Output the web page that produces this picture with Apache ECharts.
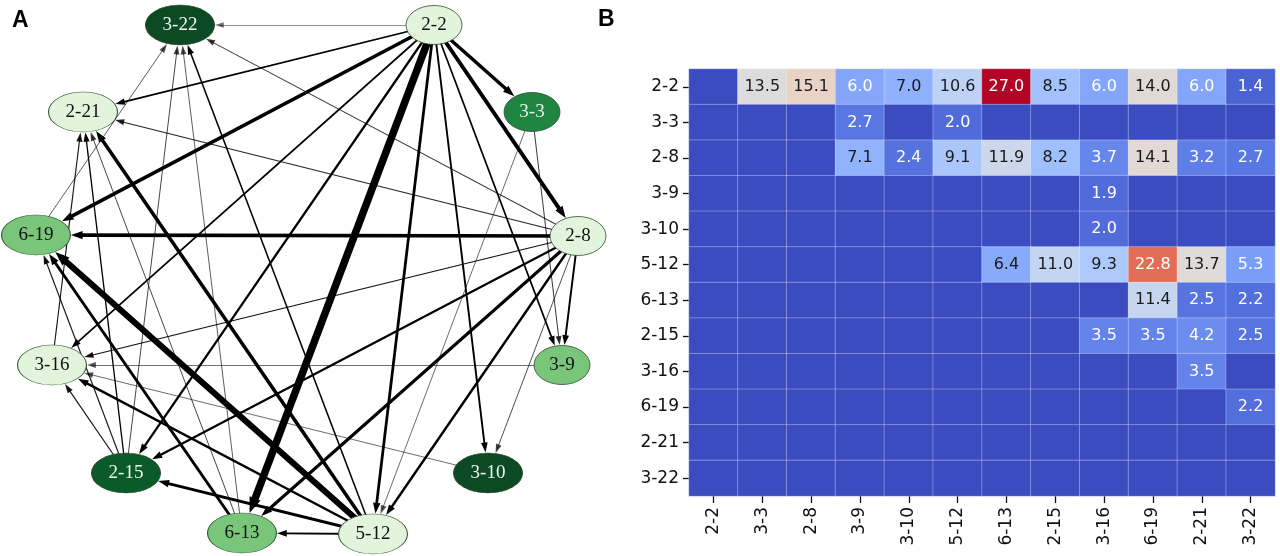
<!DOCTYPE html>
<html><head><meta charset="utf-8">
<script src="https://cdn.jsdelivr.net/npm/echarts@6/dist/echarts.min.js"></script>
<style>html,body{margin:0;padding:0;background:#fff}#c{width:1280px;height:556px}</style>
</head><body><div id="c"></div>
<script>
// ---------------- DATA ----------------
const stations = ['2-2','3-3','2-8','3-9','3-10','5-12','6-13','2-15','3-16','6-19','2-21','3-22'];
// flow from the row station (source) to each column station (target); null = no link
const from_2_2  = [null,13.5,15.1,6.0,7.0,10.6,27.0,8.5,6.0,14.0,6.0,1.4];
const from_3_3  = [null,null,null,2.7,null,2.0,null,null,null,null,null,null];
const from_2_8  = [null,null,null,7.1,2.4,9.1,11.9,8.2,3.7,14.1,3.2,2.7];
const from_3_9  = [null,null,null,null,null,null,null,null,1.9,null,null,null];
const from_3_10 = [null,null,null,null,null,null,null,null,2.0,null,null,null];
const from_5_12 = [null,null,null,null,null,null,6.4,11.0,9.3,22.8,13.7,5.3];
const from_6_13 = [null,null,null,null,null,null,null,null,null,11.4,2.5,2.2];
const from_2_15 = [null,null,null,null,null,null,null,null,3.5,3.5,4.2,2.5];
const from_3_16 = [null,null,null,null,null,null,null,null,null,null,3.5,null];
const from_6_19 = [null,null,null,null,null,null,null,null,null,null,null,2.2];
const from_2_21 = [null,null,null,null,null,null,null,null,null,null,null,null];
const from_3_22 = [null,null,null,null,null,null,null,null,null,null,null,null];
const flowRows = [from_2_2,from_3_3,from_2_8,from_3_9,from_3_10,from_5_12,from_6_13,from_2_15,from_3_16,from_6_19,from_2_21,from_3_22];

// ---------------- LAYOUT / STYLE (panel A network drawing) ----------------
const nodeLayout = {
  '3-22':[180,25], '2-2':[434,25], '3-3':[532,112], '2-21':[83,112],
  '2-8':[578,236], '6-19':[36,235], '3-16':[52,365], '3-9':[562,365],
  '2-15':[126,473], '3-10':[488,473], '6-13':[242,533], '5-12':[373,534]
};
const nodeShade = {
  '2-2':'light','3-3':'mid','2-8':'light','3-9':'medium','3-10':'dark','5-12':'light',
  '6-13':'medium','2-15':'dark2','3-16':'light','6-19':'medium','2-21':'light','3-22':'dark'
};
const shadeFill = {light:'#e3f4dd', medium:'#79c67b', mid:'#1f8541', dark:'#0b4a23', dark2:'#0b5a29'};
const shadeText = {light:'#111', medium:'#111', mid:'#e6f5e6', dark:'#eef8ee', dark2:'#eef8ee'};
const coolwarm = ['#3b4cc0','#5977e3','#7b9ff9','#9ebeff','#c0d4f5','#dddcdc','#f2cbb7','#f7ac8e','#ee8468','#d65244','#b40426'];

const ellipse = 'path://M0,50 A50,50 0 1,1 100,50 A50,50 0 1,1 0,50 Z';
function nodeSize(name){ return name.length > 3 ? [69,40] : [56,39]; }
function edgeWidth(v){ return 0.5 + 0.18*v + 0.003*v*v; }

const nodeData = stations.map(function(s){
  return {
    name: s, value: nodeLayout[s], symbol: ellipse, symbolSize: nodeSize(s),
    itemStyle: {color: shadeFill[nodeShade[s]], borderColor:'#2f4f2f', borderWidth:0.8, opacity:1},
    label: {color: shadeText[nodeShade[s]]}
  };
});

const edgeData = [];
flowRows.forEach(function(row, i){
  row.forEach(function(v, j){
    if (v == null) return;
    const s = nodeLayout[stations[i]], t = nodeLayout[stations[j]];
    const dx = s[0]-t[0], dy = s[1]-t[1], L = Math.hypot(dx,dy);
    const ux = dx/L, uy = dy/L;
    const sz = nodeSize(stations[j]);
    const a = sz[0]/2 + 0.5, b = sz[1]/2 + 0.5;
    const r = 1/Math.sqrt((ux/a)*(ux/a) + (uy/b)*(uy/b));
    const lw = edgeWidth(v);
    const al = 8 + 1.0*lw, aw = 5 + 0.9*lw;
    const alpha = Math.min(1, 0.35 + v*0.16);
    edgeData.push({
      coords: [[s[0], s[1]], [t[0] + ux*(r + al/2), t[1] + uy*(r + al/2)]],
      symbolSize: [[1,1],[aw, al]],
      lineStyle: {width: lw, color: 'rgba(0,0,0,' + alpha.toFixed(2) + ')', opacity: 1}
    });
  });
});

const heatData = [];
flowRows.forEach(function(row, i){
  row.forEach(function(v, j){
    const val = v == null ? 0 : v;
    const dark = val >= 6.2 && val <= 21;
    heatData.push({value:[j, i, val], label:{color: dark ? '#1a1a1a' : '#ffffff'}});
  });
});

const chart = echarts.init(document.getElementById('c'), null, {renderer:'canvas'});
const axisFont = {fontFamily:'DejaVu Sans', fontSize:17, color:'#111'};
chart.setOption({
  animation: false,
  backgroundColor: '#fff',
  title: [
    {text:'A', left:7, top:4, textStyle:{fontFamily:'Liberation Sans', fontWeight:'bold', fontSize:23, color:'#000'}},
    {text:'B', left:593, top:3, textStyle:{fontFamily:'Liberation Sans', fontWeight:'bold', fontSize:23, color:'#000'}}
  ],
  grid: [
    {left:0, top:0, width:1280, height:556, outerBoundsMode:'none'},
    {left:689, top:69, width:586, height:427, outerBoundsMode:'none'}
  ],
  xAxis: [
    {type:'value', gridIndex:0, min:0, max:1280, show:false},
    {type:'category', gridIndex:1, data:stations, position:'bottom',
     axisLine:{show:false}, splitLine:{show:false},
     axisTick:{show:true, alignWithLabel:true, length:7, lineStyle:{color:'#111', width:1.3}},
     axisLabel:Object.assign({rotate:90, margin:11, interval:0}, axisFont)}
  ],
  yAxis: [
    {type:'value', gridIndex:0, min:0, max:556, inverse:true, show:false},
    {type:'category', gridIndex:1, data:stations, inverse:true,
     axisLine:{show:false}, splitLine:{show:false},
     axisTick:{show:true, alignWithLabel:true, length:6, lineStyle:{color:'#111', width:1.3}},
     axisLabel:Object.assign({margin:10, interval:0}, axisFont)}
  ],
  visualMap: {
    show:false, type:'continuous', seriesIndex:2, dimension:2, min:0, max:27,
    inRange:{color: coolwarm}
  },
  series: [
    {type:'lines', coordinateSystem:'cartesian2d', xAxisIndex:0, yAxisIndex:0, z:2,
     symbol:['none','triangle'], silent:true, data: edgeData},
    {type:'scatter', xAxisIndex:0, yAxisIndex:0, z:4, silent:true, data: nodeData,
     itemStyle:{opacity:1},
     label:{show:true, position:'inside', formatter:'{b}', fontFamily:'Liberation Serif', fontSize:19}},
    {type:'heatmap', xAxisIndex:1, yAxisIndex:1, data: heatData,
     itemStyle:{borderColor:'rgba(255,255,255,0.3)', borderWidth:1},
     label:{show:true, fontFamily:'DejaVu Sans', fontSize:16,
            formatter:function(p){ return p.value[2] > 0 ? p.value[2].toFixed(1) : ''; }}}
  ]
});
</script></body></html>
